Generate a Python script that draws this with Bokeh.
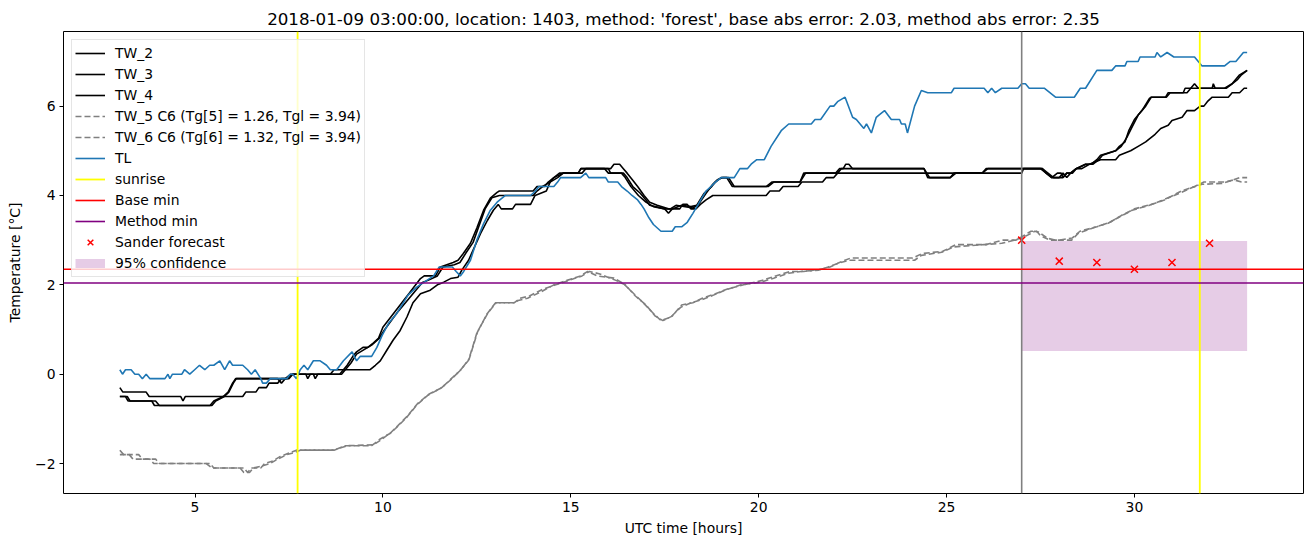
from bokeh.plotting import figure
from bokeh.models import Span, Range1d, FixedTicker, Legend, LegendItem
from bokeh.embed import file_html
from bokeh.resources import INLINE

# ---------------- data ----------------
tw2_t = [3.0, 3.08, 3.7, 3.78, 4.62, 4.68, 4.74, 6.27, 6.35, 6.62, 6.7, 6.9, 6.97, 7.2, 7.3, 7.5, 7.6,
         8.6, 8.7, 9.66, 9.8, 9.93, 10.1, 10.27, 10.46, 10.64, 10.8, 11.0, 11.26, 11.45, 11.62, 11.8,
         12.0, 12.1, 12.28, 12.46, 12.6, 12.78, 12.94, 13.07, 13.15, 13.45, 13.53, 13.93, 14.05, 14.35,
         14.45, 14.55, 14.8, 15.2, 15.27, 16.06, 16.15, 16.3, 16.4, 16.5, 16.65, 16.78, 16.95, 17.1,
         17.3, 17.6, 17.9, 17.98, 18.1, 18.2, 18.33, 18.45, 18.6, 18.78, 20.2, 20.3, 20.55, 20.65,
         21.05, 21.15, 21.7, 21.8, 22.0, 22.1, 27.0, 27.05, 27.55, 27.65, 27.8, 27.95, 28.1, 28.2,
         28.3, 28.45, 28.6, 28.8, 29.1, 29.5, 29.6, 29.9, 30.1, 30.3, 30.55, 30.7, 30.9, 31.0, 31.27,
         31.4, 31.6, 31.75, 31.85, 31.94, 32.07, 32.5, 32.6, 32.8, 32.92, 33.0]
tw2_v = [-0.3, -0.4, -0.4, -0.5, -0.5, -0.6, -0.5, -0.5, -0.4, -0.4, -0.3, -0.3, -0.2, -0.2, -0.1, -0.1, 0.0,
         0.0, 0.1, 0.1, 0.2, 0.3, 0.53, 0.76, 0.98, 1.28, 1.6, 1.8, 1.88, 2.0, 2.06, 2.14,
         2.17, 2.33, 2.55, 2.89, 3.15, 3.44, 3.67, 3.8, 3.7, 3.7, 3.8, 3.8, 4.0, 4.1,
         4.3, 4.4, 4.5, 4.5, 4.6, 4.6, 4.7, 4.7, 4.6, 4.5, 4.34, 4.2, 4.0, 3.85,
         3.78, 3.7, 3.7, 3.8, 3.8, 3.7, 3.7, 3.8, 3.9, 4.0, 4.0, 4.1, 4.1, 4.2,
         4.2, 4.3, 4.3, 4.4, 4.4, 4.5, 4.5, 4.6, 4.6, 4.5, 4.4, 4.4, 4.4, 4.5,
         4.5, 4.6, 4.6, 4.7, 4.8, 4.8, 4.9, 5.0, 5.1, 5.2, 5.37, 5.5, 5.57, 5.68, 5.75,
         5.9, 5.9, 6.0, 6.0, 6.1, 6.2, 6.2, 6.3, 6.3, 6.4, 6.4]

tw3_t = [3.0, 3.2, 3.27, 3.85, 3.92, 5.4, 5.5, 5.75, 5.88, 6.0, 6.08, 7.3, 7.45, 7.6, 7.95, 8.0, 8.07,
         8.15, 8.2, 8.27, 8.85, 8.95, 9.05, 9.2, 9.3, 9.47, 9.6, 9.75, 9.88, 10.0, 10.35, 10.7, 11.0,
         11.1, 11.4, 11.53, 11.87, 12.0, 12.14, 12.33, 12.5, 12.68, 12.86, 13.04, 13.1, 14.0, 14.1,
         14.3, 14.4, 14.55, 14.7, 15.2, 15.27, 16.0, 16.06, 16.4, 16.5, 16.65, 16.85, 17.0, 17.1,
         17.5, 17.6, 17.7, 17.95, 18.2, 18.35, 18.55, 18.75, 18.85, 19.0, 19.15, 19.3, 20.2, 20.35,
         21.1, 21.2, 22.05, 22.15, 22.25, 22.32, 22.4, 22.5, 24.4, 24.5, 25.1, 25.2, 25.95, 26.05,
         27.5, 27.65, 27.8, 27.95, 28.05, 28.1, 28.2, 28.35, 28.45, 28.7, 28.85, 29.0, 29.1, 29.5,
         29.6, 29.75, 29.85, 30.0, 30.2, 30.4, 30.45, 30.83, 30.9, 31.3, 31.35, 31.7, 32.4, 32.6,
         32.7, 32.8, 33.0]
tw3_v = [-0.5, -0.5, -0.6, -0.6, -0.7, -0.7, -0.6, -0.5, -0.4, -0.2, -0.1, -0.1, -0.1, 0.0, 0.0, -0.1, 0.0,
         0.0, -0.1, 0.0, 0.0, 0.1, 0.2, 0.4, 0.5, 0.6, 0.6, 0.7, 0.8, 1.05, 1.43, 1.81, 2.14,
         2.2, 2.2, 2.4, 2.5, 2.55, 2.7, 2.93, 3.27, 3.67, 3.94, 4.07, 4.1, 4.1, 4.2,
         4.2, 4.3, 4.4, 4.5, 4.5, 4.6, 4.6, 4.5, 4.5, 4.4, 4.2, 4.05, 3.9, 3.78,
         3.7, 3.6, 3.7, 3.78, 3.75, 3.78, 4.05, 4.2, 4.3, 4.4, 4.4, 4.2, 4.2, 4.3,
         4.3, 4.5, 4.5, 4.6, 4.6, 4.7, 4.7, 4.6, 4.6, 4.4, 4.4, 4.5, 4.5, 4.6,
         4.6, 4.5, 4.4, 4.5, 4.5, 4.4, 4.5, 4.5, 4.6, 4.7, 4.7, 4.8, 4.9, 5.0,
         5.1, 5.2, 5.45, 5.7, 5.9, 6.17, 6.2, 6.2, 6.3, 6.3, 6.4, 6.4, 6.4, 6.5,
         6.6, 6.7, 6.8]

tw4_t = [3.0, 3.15, 3.22, 3.95, 4.05, 5.45, 5.55, 5.78, 5.9, 6.02, 6.1, 7.2, 7.3, 7.4, 7.55, 8.1,
         8.9, 9.0, 9.15, 9.3, 9.5, 9.7, 9.9, 10.05, 10.4, 10.75, 11.05, 11.2, 11.45, 11.6, 11.9,
         12.05, 12.2, 12.4, 12.55, 12.72, 12.9, 13.1, 14.0, 14.1, 14.25, 14.45, 14.65, 14.8, 15.3,
         15.4, 15.9, 16.0, 16.35, 16.45, 16.6, 16.8, 17.0, 17.2, 17.5, 17.65, 17.8, 18.25, 18.4,
         18.6, 18.78, 18.9, 19.05, 19.2, 19.35, 20.25, 20.4, 21.1, 21.25, 22.1, 22.2, 24.4, 24.55,
         25.1, 25.25, 25.95, 26.1, 27.55, 27.7, 27.85, 28.0, 28.1, 28.2, 28.3, 28.45, 28.7, 28.9,
         29.05, 29.15, 29.5, 29.65, 29.8, 29.95, 30.1, 30.3, 30.45, 30.85, 30.95, 31.4, 31.5, 31.6,
         31.7, 32.07, 32.1, 32.15, 32.45, 32.6, 32.75, 32.85, 33.0]
tw4_v = [-0.5, -0.5, -0.6, -0.6, -0.7, -0.7, -0.6, -0.5, -0.4, -0.2, -0.1, -0.1, -0.2, -0.1, 0.0, 0.0,
         0.0, 0.1, 0.25, 0.45, 0.55, 0.65, 0.8, 1.0, 1.4, 1.75, 2.05, 2.1, 2.2, 2.4, 2.45,
         2.5, 2.7, 2.95, 3.3, 3.7, 3.95, 4.0, 4.0, 4.1, 4.2, 4.3, 4.4, 4.5, 4.5,
         4.6, 4.6, 4.5, 4.5, 4.4, 4.2, 4.0, 3.85, 3.75, 3.7, 3.7, 3.78, 3.72, 3.8,
         4.05, 4.25, 4.35, 4.4, 4.4, 4.2, 4.2, 4.3, 4.3, 4.5, 4.5, 4.6, 4.6, 4.4,
         4.4, 4.5, 4.5, 4.6, 4.6, 4.5, 4.4, 4.4, 4.5, 4.4, 4.5, 4.6, 4.7, 4.7,
         4.8, 4.9, 5.0, 5.1, 5.3, 5.55, 5.8, 6.0, 6.2, 6.2, 6.3, 6.3, 6.4, 6.5,
         6.4, 6.4, 6.5, 6.4, 6.4, 6.5, 6.6, 6.7, 6.8]

tw5_t = [3.0, 3.1, 3.5, 3.6, 3.95, 4.05, 5.4, 5.5, 6.3, 6.4, 6.5, 6.75, 6.85, 7.05, 7.25, 7.55, 7.7,
         8.7, 9.0, 9.7, 9.93, 10.2, 10.38, 10.64, 10.9, 11.2, 11.55, 11.8, 12.06, 12.28, 12.5,
         12.78, 13.0, 13.48, 13.6, 13.85, 14.2, 14.55, 14.9, 15.26, 15.45, 15.7, 16.15, 16.4,
         16.68, 16.95, 17.2, 17.4, 17.66, 17.93, 18.2, 18.46, 18.8, 19.1, 19.53, 20.06, 20.4,
         20.8, 21.13, 21.6, 21.85, 22.1, 22.4, 24.15, 24.33, 24.87, 25.2, 26.0, 26.47, 26.8,
         27.0, 27.2, 27.35, 27.45, 27.7, 27.9, 28.33, 28.5, 28.95, 29.3, 29.6, 29.94, 30.4,
         30.73, 31.2, 31.54, 31.8, 32.33, 32.6, 32.8, 33.0]
tw5_v = [-1.7, -1.8, -1.8, -1.9, -1.9, -2.0, -2.0, -2.1, -2.1, -2.2, -2.1, -2.1, -2.0, -1.95, -1.85, -1.75, -1.7,
         -1.7, -1.6, -1.6, -1.45, -1.32, -1.18, -0.96, -0.69, -0.47, -0.31, -0.13, 0.09, 0.31, 0.92,
         1.36, 1.6, 1.6, 1.65, 1.7, 1.84, 2.0, 2.1, 2.2, 2.3, 2.2, 2.15, 2.03,
         1.8, 1.58, 1.36, 1.2, 1.28, 1.5, 1.6, 1.66, 1.77, 1.88, 2.0, 2.06, 2.15,
         2.26, 2.3, 2.33, 2.4, 2.48, 2.55, 2.55, 2.66, 2.73, 2.85, 2.9, 2.93, 3.0,
         3.05, 3.13, 3.2, 3.18, 3.04, 3.0, 3.0, 3.15, 3.29, 3.38, 3.52, 3.67, 3.78,
         3.89, 4.05, 4.18, 4.25, 4.27, 4.34, 4.4, 4.4]

tw6_t = [3.0, 3.25, 3.35, 3.8, 3.9, 5.3, 5.45, 6.2, 6.3, 6.45, 6.55, 6.8, 7.0, 7.2, 7.45, 7.65, 7.8,
         8.7, 9.05, 9.75, 9.95, 10.22, 10.4, 10.66, 10.92, 11.22, 11.57, 11.82, 12.08, 12.3, 12.52,
         12.8, 13.02, 13.5, 13.65, 13.9, 14.25, 14.6, 14.95, 15.3, 15.5, 15.75, 16.2, 16.45,
         16.72, 17.0, 17.25, 17.45, 17.7, 17.95, 18.25, 18.5, 18.85, 19.15, 19.6, 20.1, 20.45,
         20.85, 21.2, 21.65, 21.9, 22.15, 22.45, 24.1, 24.35, 24.9, 25.25, 26.05, 26.5, 26.85,
         27.05, 27.25, 27.4, 27.5, 27.75, 28.0, 28.35, 28.55, 29.0, 29.35, 29.65, 30.0, 30.45,
         30.8, 31.25, 31.6, 31.85, 32.4, 32.65, 32.85, 33.0]
tw6_v = [-1.8, -1.8, -1.9, -1.9, -2.0, -2.0, -2.1, -2.1, -2.2, -2.2, -2.1, -2.05, -2.0, -1.9, -1.8, -1.75, -1.7,
         -1.7, -1.6, -1.58, -1.47, -1.3, -1.15, -0.93, -0.66, -0.45, -0.3, -0.1, 0.1, 0.35, 0.95,
         1.38, 1.6, 1.6, 1.7, 1.75, 1.9, 2.0, 2.1, 2.2, 2.3, 2.25, 2.1, 2.0,
         1.75, 1.55, 1.3, 1.2, 1.3, 1.55, 1.6, 1.7, 1.8, 1.9, 2.0, 2.1, 2.2,
         2.3, 2.3, 2.35, 2.4, 2.5, 2.6, 2.6, 2.7, 2.75, 2.9, 2.9, 3.0, 3.0,
         3.1, 3.2, 3.2, 3.1, 3.0, 3.0, 3.05, 3.2, 3.3, 3.4, 3.55, 3.7, 3.8,
         3.9, 4.1, 4.2, 4.3, 4.3, 4.35, 4.3, 4.3]

tl_t = [3.0, 3.07, 3.15, 3.3, 3.4, 3.5, 3.6, 3.7, 3.8, 4.2, 4.28, 4.33, 4.4, 4.65, 4.72, 4.86, 4.99,
        5.12, 5.26, 5.39, 5.5, 5.66, 5.79, 5.92, 6.0, 6.27, 6.4, 6.5, 6.6, 6.75, 6.8, 6.9, 7.0,
        7.44, 7.53, 7.6, 7.7, 7.8, 7.9, 8.0, 8.15, 8.33, 8.5, 8.6, 8.77, 8.86, 8.95, 9.18, 9.3,
        9.4, 9.7, 9.84, 9.98, 10.15, 10.37, 10.67, 10.9, 11.17, 11.35, 11.5, 11.85, 11.95, 12.06,
        12.15, 12.33, 12.5, 12.68, 12.86, 13.04, 13.26, 13.93, 14.06, 14.15, 14.55, 14.65, 14.73,
        15.26, 15.4, 15.48, 15.93, 16.0, 16.25, 16.35, 16.5, 16.63, 16.78, 16.87, 16.95, 17.08,
        17.2, 17.4, 17.7, 17.78, 17.95, 18.1, 18.25, 18.46, 18.6, 18.73, 18.85, 19.0, 19.35, 19.5,
        19.7, 19.8, 19.95, 20.15, 20.33, 20.6, 20.8, 21.4, 21.5, 21.65, 21.9, 22.0, 22.1, 22.3,
        22.5, 22.6, 22.8, 22.87, 23.0, 23.13, 23.2, 23.35, 23.53, 23.75, 23.8, 23.9, 23.96, 24.15,
        24.33, 24.5, 25.13, 25.2, 26.0, 26.1, 26.2, 26.3, 26.47, 26.9, 27.0, 27.1, 27.2, 27.6,
        27.9, 28.4, 28.56, 28.7, 29.0, 29.4, 29.5, 29.75, 29.8, 30.1, 30.15, 30.55, 30.6, 30.7,
        30.87, 31.05, 31.6, 31.8, 32.4, 32.55, 32.7, 32.9, 33.0]
tl_v = [0.1, 0.0, 0.1, 0.1, 0.0, 0.0, -0.1, 0.0, -0.1, -0.1, 0.0, -0.1, 0.0, 0.0, 0.1, 0.0, 0.1,
        0.2, 0.1, 0.2, 0.2, 0.3, 0.1, 0.3, 0.2, 0.2, 0.1, 0.0, 0.1, -0.1, -0.2, -0.2, -0.1,
        -0.1, 0.0, 0.0, -0.1, 0.1, 0.2, 0.1, 0.3, 0.3, 0.2, 0.1, 0.1, 0.2, 0.3, 0.5, 0.3,
        0.4, 0.4, 0.6, 0.87, 1.14, 1.36, 1.77, 1.95, 2.1, 2.2, 2.4, 2.4, 2.3, 2.2,
        2.3, 2.55, 3.0, 3.37, 3.67, 3.85, 4.0, 4.0, 4.1, 4.2, 4.2, 4.3, 4.4,
        4.4, 4.5, 4.4, 4.4, 4.3, 4.3, 4.2, 4.1, 4.0, 3.9, 3.8, 3.7, 3.5,
        3.35, 3.2, 3.2, 3.3, 3.3, 3.4, 3.6, 3.9, 4.1, 4.2, 4.3, 4.4, 4.4, 4.6,
        4.6, 4.7, 4.8, 4.8, 5.1, 5.45, 5.6, 5.6, 5.7, 5.7, 6.0, 6.0, 6.1, 6.2,
        5.75, 5.7, 5.5, 5.6, 5.4, 5.75, 5.8, 5.9, 5.7, 5.7, 5.6, 5.6, 5.4, 6.0,
        6.35, 6.3, 6.3, 6.4, 6.4, 6.3, 6.4, 6.3, 6.4, 6.4, 6.5, 6.5, 6.4, 6.4,
        6.2, 6.2, 6.4, 6.4, 6.8, 6.8, 6.9, 6.9, 7.0, 7.0, 7.1, 7.1, 7.2, 7.1,
        7.2, 7.1, 7.1, 6.9, 6.9, 7.0, 7.0, 7.2, 7.2]

sunrise_times = [7.73, 31.74]
forecast_start = 27.0
base_min = 2.35
method_min = 2.04
sander_t = [27, 28, 29, 30, 31, 32]
sander_v = [3.0, 2.53, 2.5, 2.35, 2.5, 2.93]
conf_t = [27, 33]
conf_lo = [0.52, 0.52]
conf_hi = [2.98, 2.98]

x_ticks = [5, 10, 15, 20, 25, 30]
y_ticks = [-2, 0, 2, 4, 6]
y_tick_labels = {-2: "\u22122", 0: "0", 2: "2", 4: "4", 6: "6"}

title_text = ("2018-01-09 03:00:00, location: 1403, method: 'forest', "
              "base abs error: 2.03, method abs error: 2.35")

FONT = "DejaVu Sans"
FS = "13.9px"
NAN = float("nan")

p = figure(width=1304, height=539, output_backend="svg", toolbar_location=None,
           x_range=Range1d(1.5, 34.5), y_range=Range1d(-2.67, 7.67),
           min_border_left=63, min_border_right=1, min_border_top=31, min_border_bottom=46,
           title=title_text)

p.title.text_font = FONT
p.title.text_font_size = "16.7px"
p.title.text_font_style = "normal"
p.title.text_color = "black"
p.title.align = "center"
p.title.standoff = 5

p.xgrid.visible = False
p.ygrid.visible = False
p.outline_line_color = "black"
p.outline_line_width = 1
p.outline_line_alpha = 1.0
p.background_fill_color = "white"
p.border_fill_color = "white"

for ax in (p.xaxis[0], p.yaxis[0]):
    ax.axis_line_color = None
    ax.major_tick_line_color = "black"
    ax.major_tick_out = 4
    ax.major_tick_in = 0
    ax.minor_tick_line_color = None
    ax.major_label_text_font = FONT
    ax.major_label_text_font_size = FS
    ax.major_label_text_color = "black"
    ax.axis_label_text_font = FONT
    ax.axis_label_text_font_size = FS
    ax.axis_label_text_font_style = "normal"
    ax.axis_label_text_color = "black"
    ax.major_label_standoff = 4

p.xaxis.ticker = FixedTicker(ticks=x_ticks)
p.yaxis.ticker = FixedTicker(ticks=y_ticks)
p.yaxis.major_label_overrides = y_tick_labels
p.xaxis.axis_label = "UTC time [hours]"
p.yaxis.axis_label = "Temperature [\u00b0C]"
p.xaxis.axis_label_standoff = 5
p.yaxis.axis_label_standoff = 9

# confidence band (below everything)
p.varea(x=conf_t, y1=conf_lo, y2=conf_hi, fill_color="purple", fill_alpha=0.2)

r_tw2 = p.line(tw2_t, tw2_v, line_color="black", line_width=1.6)
r_tw3 = p.line(tw3_t, tw3_v, line_color="black", line_width=1.6)
r_tw4 = p.line(tw4_t, tw4_v, line_color="black", line_width=1.6)
r_tw5 = p.line(tw5_t, tw5_v, line_color="gray", line_width=1.6, line_dash="6 3")
r_tw6 = p.line(tw6_t, tw6_v, line_color="gray", line_width=1.6, line_dash="6 3")
r_tl = p.line(tl_t, tl_v, line_color="#1f77b4", line_width=1.6)

# vertical / horizontal reference lines
p.add_layout(Span(location=forecast_start, dimension="height", line_color="gray", line_width=1.6))
for s in sunrise_times:
    p.add_layout(Span(location=s, dimension="height", line_color="yellow", line_width=1.8))
p.add_layout(Span(location=base_min, dimension="width", line_color="red", line_width=1.6))
p.add_layout(Span(location=method_min, dimension="width", line_color="purple", line_width=1.6))

r_sander = p.scatter(sander_t, sander_v, marker="x", size=10, line_color="red", line_width=1.5)

# legend-only proxies (a single NaN point: nothing drawn in the plot)
r_sun = p.line(x=[NAN], y=[NAN], line_color="yellow", line_width=1.8)
r_base = p.line(x=[NAN], y=[NAN], line_color="red", line_width=1.6)
r_meth = p.line(x=[NAN], y=[NAN], line_color="purple", line_width=1.6)
r_conf = p.line(x=[NAN], y=[NAN], line_color="purple", line_alpha=0.2, line_width=9, line_cap="butt")

legend = Legend(items=[
    LegendItem(label="TW_2", renderers=[r_tw2]),
    LegendItem(label="TW_3", renderers=[r_tw3]),
    LegendItem(label="TW_4", renderers=[r_tw4]),
    LegendItem(label="TW_5 C6 (Tg[5] = 1.26, Tgl = 3.94)", renderers=[r_tw5]),
    LegendItem(label="TW_6 C6 (Tg[6] = 1.32, Tgl = 3.94)", renderers=[r_tw6]),
    LegendItem(label="TL", renderers=[r_tl]),
    LegendItem(label="sunrise", renderers=[r_sun]),
    LegendItem(label="Base min", renderers=[r_base]),
    LegendItem(label="Method min", renderers=[r_meth]),
    LegendItem(label="Sander forecast", renderers=[r_sander]),
    LegendItem(label="95% confidence", renderers=[r_conf]),
], location="top_left")
legend.margin = 8
legend.padding = 3
legend.spacing = 1
legend.glyph_width = 30
legend.glyph_height = 20
legend.label_height = 20
legend.label_standoff = 10
legend.label_text_font = FONT
legend.label_text_font_size = FS
legend.label_text_color = "black"
legend.border_line_color = "#cccccc"
legend.border_line_width = 1
legend.background_fill_color = "white"
legend.background_fill_alpha = 0.8
p.add_layout(legend, "center")

open("out.html", "w").write(file_html(p, INLINE))
